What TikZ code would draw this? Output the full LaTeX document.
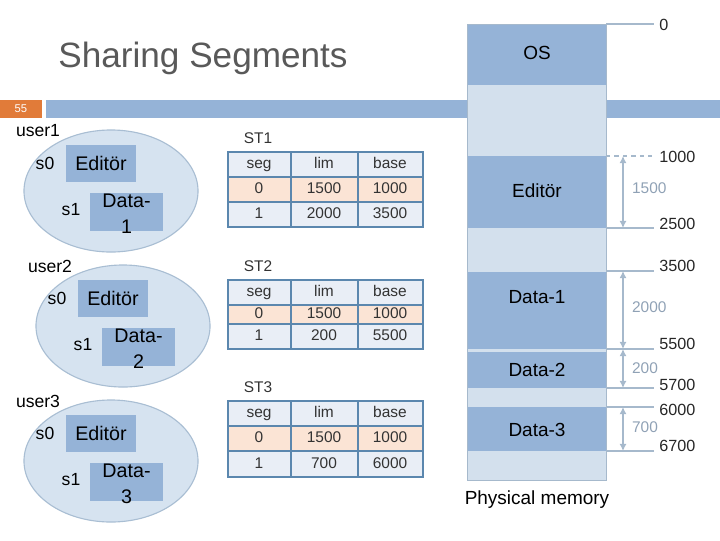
\documentclass[tikz,border=0pt]{standalone}
\usepackage{fontspec}
\setsansfont{Liberation Sans}
\usepackage{tikz}
\tikzset{every picture/.style={/utils/exec={\sffamily}}}
\usetikzlibrary{calc, positioning, arrows.meta}
\definecolor{Mem_dark}{rgb}{0.584, 0.702, 0.843}
\definecolor{Mem_light}{rgb}{0.827, 0.878, 0.929}
\definecolor{Oval_blue}{rgb}{0.839, 0.890, 0.941}
\definecolor{Oval_edge}{rgb}{0.663, 0.745, 0.827}
\definecolor{Tbl_row}{rgb}{0.914, 0.933, 0.965}
\definecolor{Tbl_hot}{rgb}{0.984, 0.894, 0.835}
\definecolor{Tbl_edge}{rgb}{0.357, 0.529, 0.682}
\definecolor{Addr_gray}{rgb}{0.651, 0.725, 0.800}
\definecolor{Dim_text}{rgb}{0.560, 0.630, 0.710}
\definecolor{Title_gray}{rgb}{0.349, 0.349, 0.349}
\definecolor{Slide_orange}{rgb}{0.882, 0.482, 0.224}
\tikzset{
  tblrow/.style={fill=Tbl_row, draw=Tbl_edge, line width=1pt},
  tblhot/.style={fill=Tbl_hot, draw=Tbl_edge, line width=1pt},
  tbltext/.style={inner sep=0pt, text height=8pt, text depth=2pt, text=black!80, font=\fontsize{11}{13}\selectfont},
  memtext/.style={inner sep=0pt, font=\fontsize{13.5}{16}\selectfont},
  boxtext/.style={inner sep=0pt, font=\fontsize{14}{18.5}\selectfont},
  userlabel/.style={inner sep=0pt, font=\fontsize{12.5}{15}\selectfont},
  addrline/.style={draw=Addr_gray, line width=1.4pt},
  addrtext/.style={inner sep=0pt, anchor=west, text=black!85, font=\fontsize{11.5}{14}\selectfont},
  dimarrow/.style={draw=Addr_gray, line width=1.6pt, {Latex[length=5pt,width=5pt]}-{Latex[length=5pt,width=5pt]}},
  dimtext/.style={inner sep=0pt, anchor=west, text=Dim_text, font=\fontsize{11}{13}\selectfont}
}

\begin{document}
\begin{tikzpicture}[x=0.025cm, y=-0.025cm]
    \useasboundingbox (0,0) rectangle (720,540);
    \node[text=Title_gray, font=\fontsize{25}{30}\selectfont] (title) at (203,58) {Sharing Segments};
    \fill[Slide_orange] (0,100) rectangle (42,118);
    \node[text=white, inner sep=0pt, font=\fontsize{8}{10}\selectfont] (slideno) at (21,109) {55};
    \fill[Mem_dark] (46,100) rectangle (720,118);

    \foreach \u/\cx/\cy in {1/111/191, 2/123/326, 3/111/461} {
        \filldraw[fill=Oval_blue, draw=Oval_edge, line width=0.8pt] (\cx,\cy) ellipse [x radius=2.175cm, y radius=1.525cm];
        \node[userlabel] (user\u) at (\cx-73,\cy-60) {user\u};
        \fill[Mem_dark] (\cx-45,\cy-46) rectangle (\cx+25,\cy-9);
        \node[boxtext] (u\u-ed) at (\cx-10,\cy-27.5) {Editör};
        \node[userlabel] (u\u-s0) at (\cx-66,\cy-28) {s0};
        \fill[Mem_dark] (\cx-21,\cy+2) rectangle (\cx+52,\cy+40);
        \node[boxtext, align=center] (u\u-data) at (\cx+15.5,\cy+23) {Data-\\\u};
        \node[userlabel] (u\u-s1) at (\cx-40,\cy+19) {s1};
    }

    \foreach \tn/\ya/\yb/\yc/\yd/\lb/\bb in {1/152/177/202/227/2000/3500, 2/280/305/324/349/200/5500, 3/401/426/451/477/700/6000} {
        \filldraw[tblrow] (228,\ya) rectangle (423,\yb);
        \filldraw[tblhot] (228,\yb) rectangle (423,\yc);
        \filldraw[tblrow] (228,\yc) rectangle (423,\yd);
        \draw[Tbl_edge, line width=1pt] (291,\ya) -- (291,\yd) (358,\ya) -- (358,\yd);
        \node[tbltext] (st\tn) at (258,\ya-13) {ST\tn};
        \node[tbltext] (st\tn-seg) at (259,{(\ya+\yb)/2}) {seg};
        \node[tbltext] (st\tn-lim) at (324,{(\ya+\yb)/2}) {lim};
        \node[tbltext] (st\tn-base) at (390,{(\ya+\yb)/2}) {base};
        \node[tbltext] (st\tn-s0) at (259,{(\yb+\yc)/2}) {0};
        \node[tbltext] (st\tn-l0) at (324,{(\yb+\yc)/2}) {1500};
        \node[tbltext] (st\tn-b0) at (390,{(\yb+\yc)/2}) {1000};
        \node[tbltext] (st\tn-s1) at (259,{(\yc+\yd)/2}) {1};
        \node[tbltext] (st\tn-l1) at (324,{(\yc+\yd)/2}) {\lb};
        \node[tbltext] (st\tn-b1) at (390,{(\yc+\yd)/2}) {\bb};
    }

    \foreach \ya/\yb/\col in {24/85/Mem_dark, 85/156/Mem_light, 156/228/Mem_dark, 228/272/Mem_light, 272/349/Mem_dark, 349/352/Mem_light, 352/388/Mem_dark, 388/407/Mem_light, 407/451/Mem_dark, 451/480/Mem_light}
        \fill[\col] (467,\ya) rectangle (606,\yb);
    \draw[Addr_gray, line width=0.6pt] (467,24) rectangle (606,480);
    \node[memtext] (m-os) at (537,53) {OS};
    \node[memtext] (m-ed) at (537,191) {Editör};
    \node[memtext] (m-d1) at (537,297) {Data-1};
    \node[memtext] (m-d2) at (537,370) {Data-2};
    \node[memtext] (m-d3) at (537,430) {Data-3};
    \node[memtext] (m-phys) at (537,500) {Physical memory};

    \coordinate (a1000) at (606,156);
    \coordinate (b1000) at (654,156);
    \draw[addrline, dashed] (a1000) -- (b1000);
    \node[addrtext] (t1000) at (659,157) {1000};
    \foreach \n/\yl/\yt in {0/24/25, 2500/228/224, 3500/271/266, 5500/349/344, 5700/388/385, 6000/407/410, 6700/451/446} {
        \coordinate (a\n) at (606,\yl);
        \coordinate (b\n) at (654,\yl);
        \draw[addrline] (a\n) -- (b\n);
        \node[addrtext] (t\n) at (659,\yt) {\n};
    }

    \draw[dimarrow] ($(a1000)+(17,0)$) -- ($(a2500)+(17,0)$) node[dimtext, midway, xshift=0.2cm, yshift=0.1cm] (w1500) {1500};
    \draw[dimarrow] ($(a3500)+(17,0)$) -- ($(a5500)+(17,0)$) node[dimtext, midway, xshift=0.2cm, yshift=0.08cm] (w2000) {2000};
    \draw[dimarrow] ($(a5500)+(17,0)$) -- ($(a5700)+(17,0)$) node[dimtext, midway, xshift=0.2cm] (w200) {200};
    \draw[dimarrow] ($(a6000)+(17,0)$) -- ($(a6700)+(17,0)$) node[dimtext, midway, xshift=0.2cm, yshift=0.05cm] (w700) {700};
\end{tikzpicture}
\end{document}
